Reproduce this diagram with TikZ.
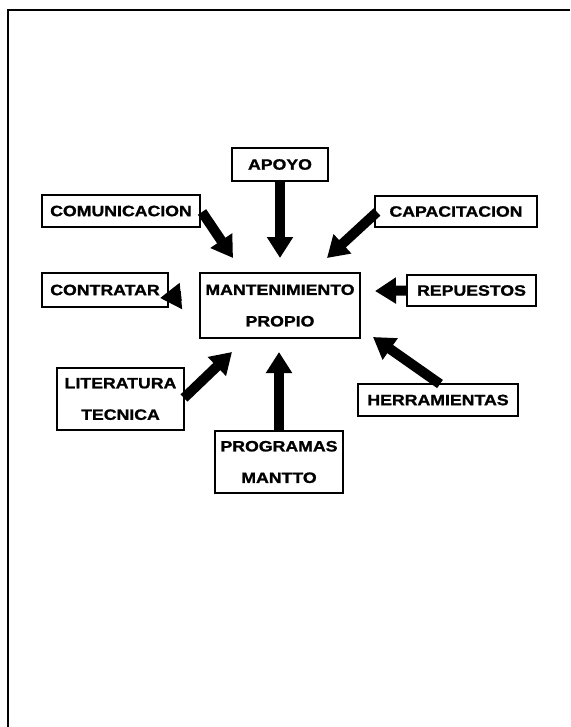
\documentclass[tikz,border=0pt]{standalone}
\usepackage{fontspec}
\newfontfamily\boxfont[FakeStretch=1.18,FakeBold=1.3]{Liberation Sans}
\usetikzlibrary{arrows.meta}
\begin{document}
\begin{tikzpicture}[x=1pt,y=-1pt,
  lbl/.style={draw=black,line width=1.6pt,inner sep=0pt,align=center,
    font=\boxfont\bfseries\fontsize{15}{31.5}\selectfont},
  bigarrow/.style={line width=10pt,-{Triangle[length=21pt,width=25pt]}}]
\useasboundingbox (0,0) rectangle (570,727);
\fill[white] (0,0) rectangle (570,727);
% frame
\draw[line width=2pt] (8,727) -- (8,10) -- (570,10);
% nodes
\node[lbl,minimum width=96pt,minimum height=33pt] (apoyo) at (280,164.5) {APOYO};
\node[lbl,minimum width=158pt,minimum height=32pt] (comun) at (121,211) {COMUNICACION};
\node[lbl,minimum width=162pt,minimum height=31pt] (capac) at (456,211.5) {CAPACITACION};
\node[lbl,minimum width=126pt,minimum height=34pt] (contr) at (105,290) {CONTRATAR};
\node[lbl,minimum width=160pt,minimum height=65pt] (mant) at (280,305.5) {MANTENIMIENTO\\PROPIO};
\node[lbl,minimum width=129pt,minimum height=31pt] (repu) at (471.5,290.5) {REPUESTOS};
\node[lbl,minimum width=127pt,minimum height=62pt] (lit) at (120.5,399) {LITERATURA\\TECNICA};
\node[lbl,minimum width=128pt,minimum height=62pt] (prog) at (279,462) {PROGRAMAS\\MANTTO};
\node[lbl,minimum width=160pt,minimum height=32pt] (herr) at (438,400) {HERRAMIENTAS};
% arrow tips near the central box
\coordinate (tApoyo) at (280,258);
\coordinate (tComun) at (233,258);
\coordinate (tCapac) at (327,258);
\coordinate (tRepu) at (375,291);
\coordinate (tHerr) at (373,337);
\coordinate (tProg) at (279,352);
\coordinate (tLit) at (232,352);
\coordinate (sContr) at (181.2,296);
\coordinate (tContr) at (160,298);
% arrows
\draw[bigarrow] (apoyo.south) -- (tApoyo);
\draw[bigarrow] (202,212) -- (tComun);
\draw[bigarrow] (377,212) -- (tCapac);
\draw[bigarrow] (repu.west) -- (tRepu);
\draw[bigarrow] (440,384) -- (tHerr);
\draw[bigarrow] (prog.north) -- (tProg);
\draw[bigarrow] (184,398) -- (tLit);
\draw[bigarrow] (sContr) -- (tContr);
\end{tikzpicture}
\end{document}
